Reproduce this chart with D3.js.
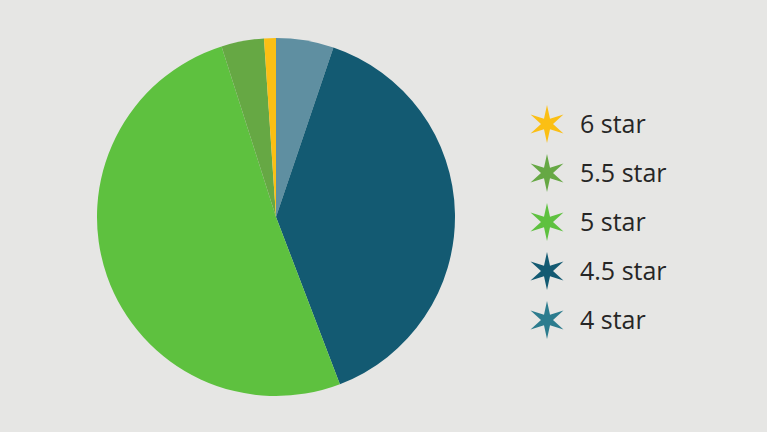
<!DOCTYPE html>
<html>
<head>
<meta charset="utf-8">
<script src="https://cdn.jsdelivr.net/npm/d3@7"></script>
<style>
  html, body { margin: 0; padding: 0; background: #e6e6e4; }
  svg { display: block; }
  text { font-family: "Open Sans", "Noto Sans", sans-serif; }
</style>
</head>
<body>
<svg id="chart" width="767" height="432"></svg>
<script>
// ratings share, clockwise from 12 o'clock
const categories = ['4 star', '4.5 star', '5 star', '5.5 star', '6 star'];
const values = [5.2, 39.0, 50.9, 3.85, 1.07];
const sliceColors = ['#5f8fa1', '#135a72', '#5ec13f', '#66a844', '#fbbf14'];
const legendColors = ['#2c7c8e', '#135a72', '#5ec13f', '#66a844', '#fbbf14'];
const legendOrder = ['6 star', '5.5 star', '5 star', '4.5 star', '4 star'];

const WIDTH = 767;
const HEIGHT = 432;
const center = { x: 276, y: 217 };
const radius = 179;

const svg = d3.select('#chart');

const data = categories.map((c, i) => ({ category: c, value: values[i] }));

const color = d3.scaleOrdinal().domain(categories).range(sliceColors);
const legendColor = d3.scaleOrdinal().domain(categories).range(legendColors);

const pie = d3.pie()
  .sort(null)
  .value(d => d.value);

const arc = d3.arc()
  .innerRadius(0)
  .outerRadius(radius);

svg.append('g')
  .attr('transform', `translate(${center.x}, ${center.y})`)
  .selectAll('path')
  .data(pie(data))
  .join('path')
  .attr('d', arc)
  .attr('fill', d => color(d.data.category));

/*
 * Legend with six-pointed star markers
 */
function starPath(outer, inner) {
  const pts = [];
  for (let i = 0; i < 12; i++) {
    const r = i % 2 === 0 ? outer : inner;
    const a = i * Math.PI / 6;
    pts.push([r * Math.sin(a), -r * Math.cos(a)]);
  }
  return d3.line()(pts) + 'Z';
}

const legendY = d3.scalePoint()
  .domain(legendOrder)
  .range([124, 320]);

const legend = svg.append('g')
  .selectAll('g')
  .data(legendOrder)
  .join('g')
  .attr('transform', d => `translate(547, ${legendY(d)})`);

legend.append('path')
  .attr('d', starPath(19, 6))
  .attr('fill', d => legendColor(d));

legend.append('text')
  .attr('x', 33)
  .attr('dy', '0.35em')
  .attr('font-size', 25)
  .attr('fill', '#262626')
  .text(d => d);
</script>
</body>
</html>
